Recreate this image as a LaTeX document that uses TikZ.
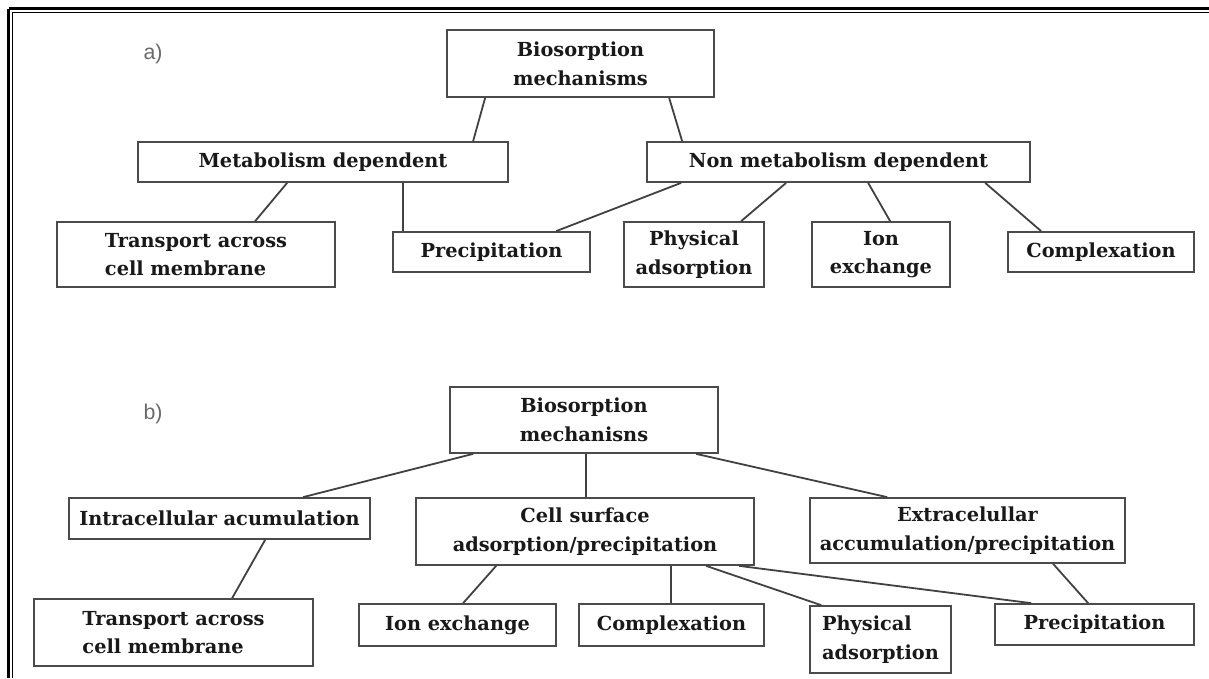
\documentclass[tikz,border=0pt]{standalone}
\usepackage{fontspec}
\newfontfamily\boxfont{DejaVu Serif}
\newfontfamily\labelfont{Liberation Sans}

\begin{document}
\begin{tikzpicture}[x=0.75pt,y=0.75pt,yscale=-1,xscale=1,
  box/.style={draw={rgb, 255:red, 75; green, 75; blue, 75 }, line width=1.3pt, fill=white, inner sep=0pt, align=center,
    font=\boxfont\bfseries\fontsize{14.5}{21.5}\selectfont, text={rgb, 255:red, 25; green, 25; blue, 25 }},
  link/.style={draw={rgb, 255:red, 65; green, 65; blue, 65 }, line width=1.35pt},
  sz/.style 2 args={minimum width=#1*0.75pt, minimum height=#2*0.75pt},
  tag/.style={font=\labelfont\fontsize{16}{18}\selectfont, text={rgb, 255:red, 105; green, 105; blue, 105 }}]
\useasboundingbox (0,0) rectangle (1209,678);

%Frame
\draw [line width=2.5pt] (8.5,8.5) -- (1209,8.5) ;
\draw [line width=0.9pt] (12.5,12.2) -- (1209,12.2) ;
\draw [line width=2.5pt] (8.5,8.5) -- (8.5,678) ;
\draw [line width=0.9pt] (12.5,12.2) -- (12.5,678) ;

% Text Node
\node [tag] (labA) at (153,54) {a)};
\node [tag] (labB) at (153,414) {b)};

%Shape: Rectangle [part a]
\node [box, sz={267}{67}] (bioA) at (580.5,63.5) {Biosorption\\mechanisms};
\node [box, sz={370}{40}] (metA) at (323,162) {Metabolism dependent};
\node [box, sz={383}{40}] (nonA) at (838.5,162) {Non metabolism dependent};
\node [box, sz={278}{65}, align=left] (transA) at (196,254.5) {Transport across\\cell membrane};
\node [box, sz={197}{40}] (precA) at (491.5,252) {Precipitation};
\node [box, sz={140}{65}] (physA) at (694,254.5) {Physical\\adsorption};
\node [box, sz={138}{65}] (ionA) at (881,254.5) {Ion\\exchange};
\node [box, sz={186}{40}] (compA) at (1101,252) {Complexation};

%Straight Lines [part a]
\draw [link] ([shift={(39,0)}]bioA.south west) -- ([shift={(336,0)}]metA.north west) ;
\draw [link] ([shift={(223,0)}]bioA.south west) -- ([shift={(36,0)}]nonA.north west) ;
\draw [link] ([shift={(150,0)}]metA.south west) -- ([shift={(199,0)}]transA.north west) ;
\draw [link] ([shift={(266,0)}]metA.south west) -- ([shift={(11,0)}]precA.north west) ;
\draw [link] ([shift={(35,0)}]nonA.south west) -- ([shift={(164,0)}]precA.north west) ;
\draw [link] ([shift={(140,0)}]nonA.south west) -- ([shift={(118,0)}]physA.north west) ;
\draw [link] ([shift={(222,0)}]nonA.south west) -- ([shift={(79,0)}]ionA.north west) ;
\draw [link] ([shift={(339,0)}]nonA.south west) -- ([shift={(34,0)}]compA.north west) ;

%Shape: Rectangle [part b]
\node [box, sz={268}{66}] (bioB) at (584,420) {Biosorption\\mechanisns};
\node [box, sz={301}{41}] (intraB) at (219.5,518.5) {Intracellular acumulation};
\node [box, sz={338}{67}] (cellB) at (585,531.5) {Cell surface\\adsorption/precipitation};
\node [box, sz={315}{65}] (extraB) at (967.5,530.5) {Extracelullar\\accumulation/precipitation};
\node [box, sz={279}{67}, align=left] (transB) at (173.5,632.5) {Transport across\\cell membrane};
\node [box, sz={197}{42}] (ionB) at (457.5,625) {Ion exchange};
\node [box, sz={185}{42}] (compB) at (671.5,625) {Complexation};
\node [box, sz={141}{67}, align=left] (physB) at (880.5,639.5) {Physical\\adsorption};
\node [box, sz={199}{41}] (precB) at (1094.5,624.5) {Precipitation};

%Straight Lines [part b]
\draw [link] ([shift={(24,0)}]bioB.south west) -- ([shift={(235,0)}]intraB.north west) ;
\draw [link] ([shift={(137,0)}]bioB.south west) -- ([shift={(171,0)}]cellB.north west) ;
\draw [link] ([shift={(247,0)}]bioB.south west) -- ([shift={(78,0)}]extraB.north west) ;
\draw [link] ([shift={(197,0)}]intraB.south west) -- ([shift={(199,0)}]transB.north west) ;
\draw [link] ([shift={(81,0)}]cellB.south west) -- ([shift={(105,0)}]ionB.north west) ;
\draw [link] ([shift={(256,0)}]cellB.south west) -- ([shift={(93,0)}]compB.north west) ;
\draw [link] ([shift={(291,0)}]cellB.south west) -- ([shift={(12,0)}]physB.north west) ;
\draw [link] ([shift={(324,0)}]cellB.south west) -- ([shift={(37,0)}]precB.north west) ;
\draw [link] ([shift={(244,0)}]extraB.south west) -- ([shift={(94,0)}]precB.north west) ;

\end{tikzpicture}
\end{document}
